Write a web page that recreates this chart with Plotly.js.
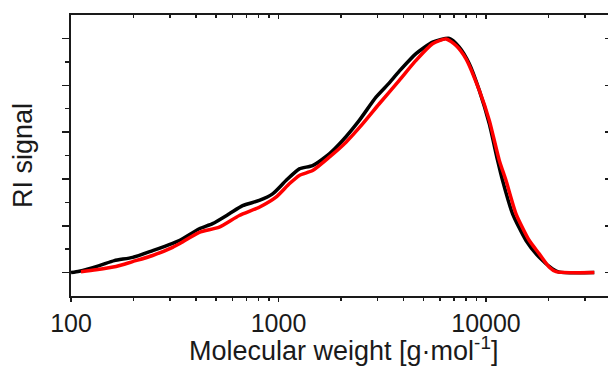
<!DOCTYPE html>
<html>
<head>
<meta charset="utf-8">
<script src="https://cdn.plot.ly/plotly-3.0.1.min.js"></script>
<style>html,body{margin:0;padding:0;background:#fff;overflow:hidden}#chart{width:608px;height:367px}</style>
</head>
<body>
<div id="chart"></div>
<script>
// Molecular weight (g/mol) and normalized RI signal, black series
var mwBlack = [100, 109.6, 136.9, 161.7, 198.2, 247.4, 308.8, 332.6, 415.2, 481.3, 579.4, 671.4, 808.0, 936.7, 1087, 1260, 1460, 1757, 2037, 2451, 2951, 3420, 3821, 4599, 5529, 6655, 7434, 8308, 9284, 10374, 11374, 12023, 13435, 15591, 18066, 20941, 22557, 33258];
var riBlack = [0, 0.006, 0.030, 0.051, 0.065, 0.094, 0.125, 0.137, 0.187, 0.209, 0.251, 0.286, 0.308, 0.336, 0.393, 0.443, 0.457, 0.507, 0.564, 0.650, 0.749, 0.810, 0.860, 0.935, 0.984, 1.0, 0.963, 0.892, 0.778, 0.635, 0.479, 0.393, 0.251, 0.137, 0.065, 0.016, 0.002, 0];
// red series
var mwRed = [111.7, 132.0, 164.8, 198.2, 247.4, 308.8, 332.6, 415.2, 518.4, 647.4, 808.0, 972.7, 1127, 1260, 1460, 1757, 2115, 2543, 3060, 3821, 4599, 5529, 6416, 7169, 8010, 9284, 10374, 11591, 12489, 13953, 16170, 18066, 20192, 21755, 33258];
var riRed = [0.004, 0.012, 0.026, 0.047, 0.073, 0.108, 0.123, 0.172, 0.194, 0.244, 0.279, 0.322, 0.379, 0.415, 0.436, 0.493, 0.557, 0.635, 0.721, 0.821, 0.906, 0.977, 0.998, 0.970, 0.913, 0.778, 0.650, 0.479, 0.393, 0.251, 0.137, 0.080, 0.023, 0.004, 0];

var xMajor = [100, 1000, 10000];
var xMajorText = ['100', '1000', '10000'];
var xMinor = [200, 300, 400, 500, 600, 700, 800, 900, 2000, 3000, 4000, 5000, 6000, 7000, 8000, 9000, 20000, 30000];
var yMajor = [0, 0.2, 0.4, 0.6, 0.8, 1.0];
var yMinor = [0.1, 0.3, 0.5, 0.7, 0.9];
var xTitle = 'Molecular weight [g·mol<sup>-1</sup>]';
var yTitle = 'RI signal';

var xRange = [2, 4.588];
var yRange = [-0.1, 1.1];
var axisColor = '#1a1a1a';
var font = 'Liberation Sans, Arial, sans-serif';

var traces = [
  {x: mwBlack, y: riBlack, mode: 'lines', line: {color: '#000000', width: 3.5, shape: 'spline', smoothing: 0.6}, hoverinfo: 'skip', showlegend: false},
  {x: mwRed, y: riRed, mode: 'lines', line: {color: '#ff0000', width: 3.5, shape: 'spline', smoothing: 0.6}, hoverinfo: 'skip', showlegend: false},
  {x: mwBlack, y: riBlack, xaxis: 'x2', yaxis: 'y2', mode: 'lines', line: {color: 'rgba(0,0,0,0)', width: 0}, hoverinfo: 'skip', showlegend: false}
];

var layout = {
  width: 608, height: 367,
  margin: {l: 71, r: 0, t: 15, b: 71},
  paper_bgcolor: '#ffffff', plot_bgcolor: '#ffffff',
  font: {family: font, color: '#1a1a1a'},
  xaxis: {
    type: 'log', range: xRange,
    showline: true, linecolor: axisColor, linewidth: 2,
    showgrid: false, zeroline: false,
    tickmode: 'array', tickvals: xMajor, ticktext: xMajorText,
    ticks: 'outside', ticklen: 4, tickwidth: 1.5, tickcolor: axisColor,
    tickfont: {size: 25, family: font, color: '#1a1a1a'},
    minor: {tickmode: 'array', tickvals: xMinor, ticks: 'outside', ticklen: 3, tickwidth: 1.5, tickcolor: axisColor, showgrid: false},
    automargin: false
  },
  yaxis: {
    range: yRange,
    showline: true, linecolor: axisColor, linewidth: 2,
    showgrid: false, zeroline: false,
    tickmode: 'array', tickvals: yMajor, showticklabels: false,
    ticks: 'outside', ticklen: 7, tickwidth: 1.5, tickcolor: axisColor,
    minor: {tickmode: 'array', tickvals: yMinor, ticks: 'outside', ticklen: 4, tickwidth: 1.5, tickcolor: axisColor, showgrid: false},
    title: {text: yTitle, font: {size: 27, family: font, color: '#1a1a1a'}, standoff: 22},
    automargin: false
  },
  xaxis2: {
    type: 'log', range: xRange, overlaying: 'x', side: 'top', anchor: 'y2',
    showline: true, linecolor: axisColor, linewidth: 2,
    showgrid: false, zeroline: false,
    tickmode: 'array', tickvals: xMajor, showticklabels: false,
    ticks: 'inside', ticklen: 4, tickwidth: 1.5, tickcolor: axisColor,
    minor: {tickmode: 'array', tickvals: xMinor, ticks: 'inside', ticklen: 3, tickwidth: 1.5, tickcolor: axisColor, showgrid: false}
  },
  yaxis2: {
    range: yRange, overlaying: 'y', side: 'right', anchor: 'x2',
    showline: false, showgrid: false, zeroline: false,
    tickmode: 'array', tickvals: yMajor, showticklabels: false,
    ticks: 'inside', ticklen: 3, tickwidth: 1.5, tickcolor: axisColor
  },
  annotations: [{
    text: xTitle, xref: 'paper', yref: 'paper', x: 0.508, y: 0,
    xanchor: 'center', yanchor: 'top', yshift: -34, showarrow: false,
    font: {size: 27, family: font, color: '#1a1a1a'}
  }]
};

Plotly.newPlot('chart', traces, layout, {staticPlot: true, displayModeBar: false});
</script>
</body>
</html>
